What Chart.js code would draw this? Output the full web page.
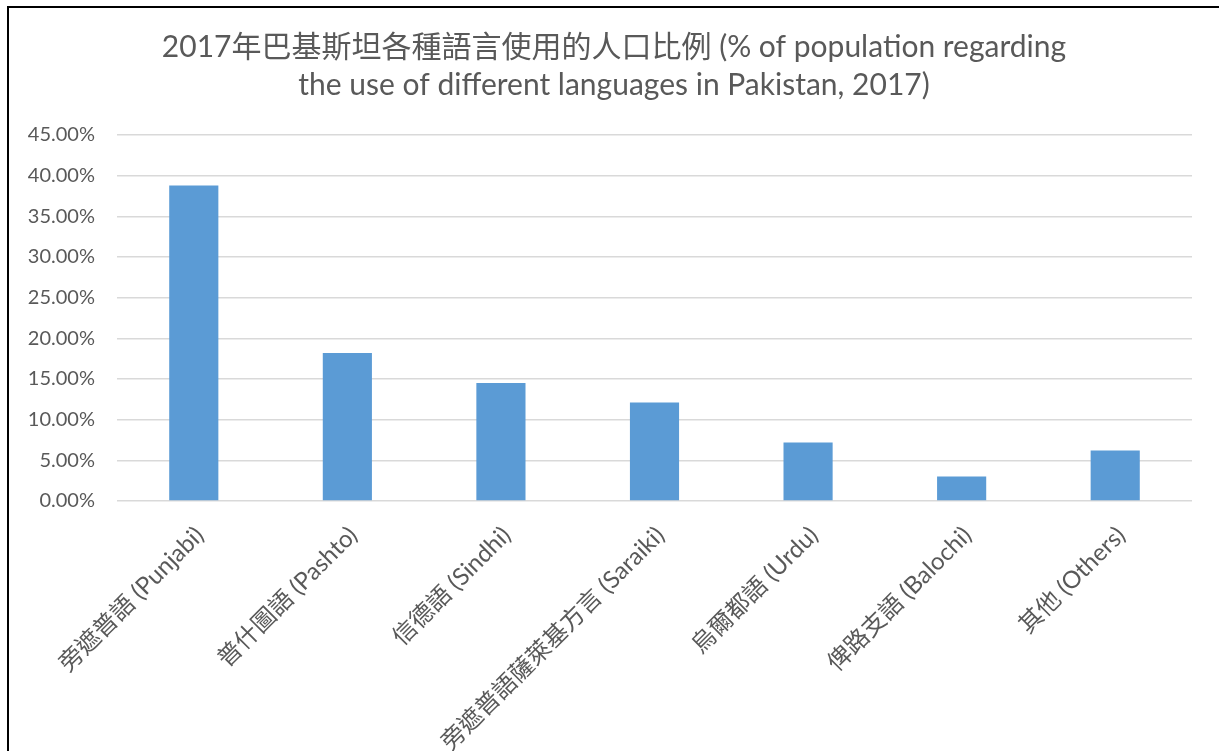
<!DOCTYPE html>
<html>
<head>
<meta charset="utf-8">
<script src="https://cdn.jsdelivr.net/npm/chart.js@4/dist/chart.umd.min.js"></script>
<style>
    html, body { margin: 0; padding: 0; background: #fff; overflow: hidden; }
    #frame {
        position: absolute; left: 7px; top: 6px;
        width: 1300px; height: 800px;
        border: 2px solid #000;
    }
    #chart-box { position: absolute; left: 9px; top: 9px; width: 1210px; height: 742px; }
</style>
</head>
<body>
<div id="frame"></div>
<div id="chart-box"><canvas id="main-chart"></canvas></div>
<script>
const titleLines = [
    '2017年巴基斯坦各種語言使用的人口比例 (% of population regarding',
    'the use of different languages in Pakistan, 2017)'
];
const languages = [
    '旁遮普語 (Punjabi)',
    '普什圖語 (Pashto)',
    '信德語 (Sindhi)',
    '旁遮普語薩萊基方言 (Saraiki)',
    '烏爾都語 (Urdu)',
    '俾路支語 (Balochi)',
    '其他 (Others)'
];
const shares = [38.8, 18.2, 14.5, 12.1, 7.2, 3.0, 6.2];
const yTicks = [0, 5, 10, 15, 20, 25, 30, 35, 40, 45];

const FONT = 'Lato, "Noto Sans CJK TC", sans-serif';
const TEXT_COLOR = '#595959';

let ctx = document.getElementById('main-chart');
let myChart = new Chart(ctx, {
    type: 'bar',
    data: {
        labels: languages,
        datasets: [{
            label: 'share',
            data: shares,
            backgroundColor: '#5B9BD5',
            borderWidth: 0,
            categoryPercentage: 1,
            barPercentage: 0.32
        }]
    },
    options: {
        responsive: true,
        maintainAspectRatio: false,
        animation: false,
        layout: { padding: 0 },
        plugins: {
            legend: { display: false },
            tooltip: { enabled: false },
            title: {
                display: true,
                text: titleLines,
                color: TEXT_COLOR,
                font: { family: FONT, size: 30, weight: 'normal', lineHeight: '38px' },
                padding: { top: 19, bottom: 31 }
            }
        },
        scales: {
            x: {
                grid: { display: false },
                border: { display: false },
                ticks: {
                    color: TEXT_COLOR,
                    font: { family: FONT, size: 24 },
                    minRotation: 45,
                    maxRotation: 45,
                    autoSkip: false,
                    padding: 12,
                    labelOffset: 6
                },
                afterFit: function (scale) { scale.height = 250; }
            },
            y: {
                min: 0,
                max: 45,
                afterBuildTicks: function (scale) {
                    scale.ticks = yTicks.map(v => ({ value: v }));
                },
                grid: { color: '#d9d9d9', lineWidth: 1.5, drawTicks: false },
                border: { display: false },
                ticks: {
                    color: TEXT_COLOR,
                    font: { family: FONT, size: 20 },
                    padding: 22,
                    callback: v => v.toFixed(2) + '%'
                },
                afterFit: function (scale) { scale.width = 108; }
            },
            // empty axis on the right, only keeps the gap after the last gridline
            yRight: {
                position: 'right',
                min: 0,
                max: 45,
                grid: { display: false },
                border: { display: false },
                ticks: { display: false },
                afterFit: function (scale) { scale.width = 27; }
            }
        }
    }
});
</script>
</body>
</html>
